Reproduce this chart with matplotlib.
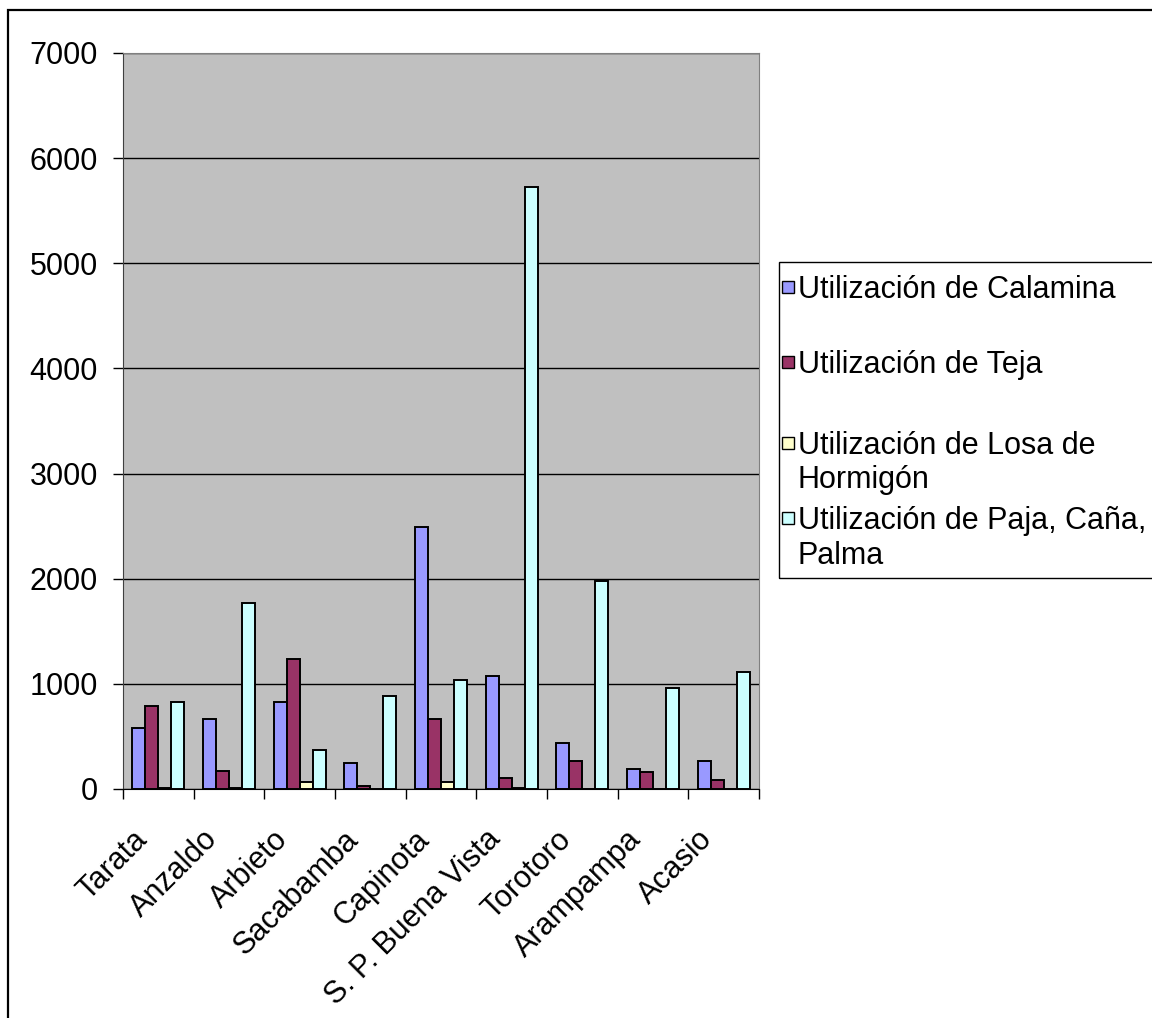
import matplotlib
matplotlib.use('Agg')
import matplotlib.pyplot as plt
import matplotlib.transforms as mtransforms
from matplotlib.patches import Rectangle
import numpy as np

plt.rcParams['font.family'] = ['Liberation Sans', 'DejaVu Sans']

# datos por municipio
municipios = ['Tarata', 'Anzaldo', 'Arbieto', 'Sacabamba', 'Capinota',
              'S. P. Buena Vista', 'Torotoro', 'Arampampa', 'Acasio']
calamina = [581, 670, 829, 248, 2495, 1076, 441, 194, 263]
teja = [794, 175, 1238, 29, 670, 102, 263, 159, 86]
losa = [12, 12, 68, 0, 68, 12, 0, 0, 0]
paja = [829, 1768, 368, 883, 1041, 5727, 1978, 956, 1111]

series = [calamina, teja, losa, paja]
nombres = [['Utilización de Calamina'], ['Utilización de Teja'],
           ['Utilización de Losa de', 'Hormigón'],
           ['Utilización de Paja, Caña,', 'Palma']]
colores = ['#9999FF', '#993366', '#FFFFCC', '#CCFFFF']

W, H = 1152, 1018
fig = plt.figure(figsize=(W / 100, H / 100), dpi=100)

def fx(px):
    return px / W

def fy(py):
    return 1 - py / H

# marco exterior del grafico
fig.patches.append(Rectangle((fx(8), fy(1040)), fx(1170) - fx(8), fy(10) - fy(1040),
                             transform=fig.transFigure, fill=False, edgecolor='black', lw=1.6))

ax = fig.add_axes([fx(123), fy(789), fx(759) - fx(123), fy(53) - fy(789)])
ax.set_facecolor('#C0C0C0')

x = np.arange(len(municipios))
ancho = 0.184
for i, (vals, col) in enumerate(zip(series, colores)):
    ax.bar(x + (i - 1.5) * ancho, vals, ancho, color=col, edgecolor='black',
           linewidth=1.4, zorder=3)

ax.set_xlim(-0.5, len(municipios) - 0.5)
ax.set_ylim(0, 7000)
ax.set_yticks(np.arange(0, 7001, 1000))
ax.yaxis.grid(True, color='black', linewidth=1.0, zorder=1)
ax.tick_params(axis='y', labelsize=22, length=7, width=1, direction='out', pad=11)

ax.set_xticks(x)
ax.set_xticklabels(municipios, rotation=45, ha='right', va='center',
                   rotation_mode='anchor', fontsize=22)
ax.tick_params(axis='x', which='major', length=0, pad=33)
desplaza = mtransforms.ScaledTranslation(-16 / 100, 0, fig.dpi_scale_trans)
for lbl in ax.get_xticklabels():
    lbl.set_transform(lbl.get_transform() + desplaza)
ax.set_xticks(np.arange(-0.5, len(municipios)), minor=True)
ax.tick_params(axis='x', which='minor', length=7, width=1, direction='out', color='black')

for lado in ['top', 'right']:
    ax.spines[lado].set_color('#808080')
ax.spines['left'].set_color('#404040')
ax.spines['bottom'].set_color('black')

# leyenda a la derecha
fig.patches.append(Rectangle((fx(779), fy(578)), fx(1300) - fx(779), fy(262) - fy(578),
                             transform=fig.transFigure, fill=False, edgecolor='black', lw=1.0))
filas_y = [287, 362, 443, 518]
for lineas, col, yy in zip(nombres, colores, filas_y):
    fig.patches.append(Rectangle((fx(782), fy(yy + 6)), fx(12), 12 / H,
                                 transform=fig.transFigure, facecolor=col,
                                 edgecolor='black', lw=1.0))
    for k, linea in enumerate(lineas):
        fig.text(fx(798), fy(yy + 34 * k), linea, fontsize=22, va='center_baseline',
                 ha='left')

fig.savefig('out.png', dpi=100)
